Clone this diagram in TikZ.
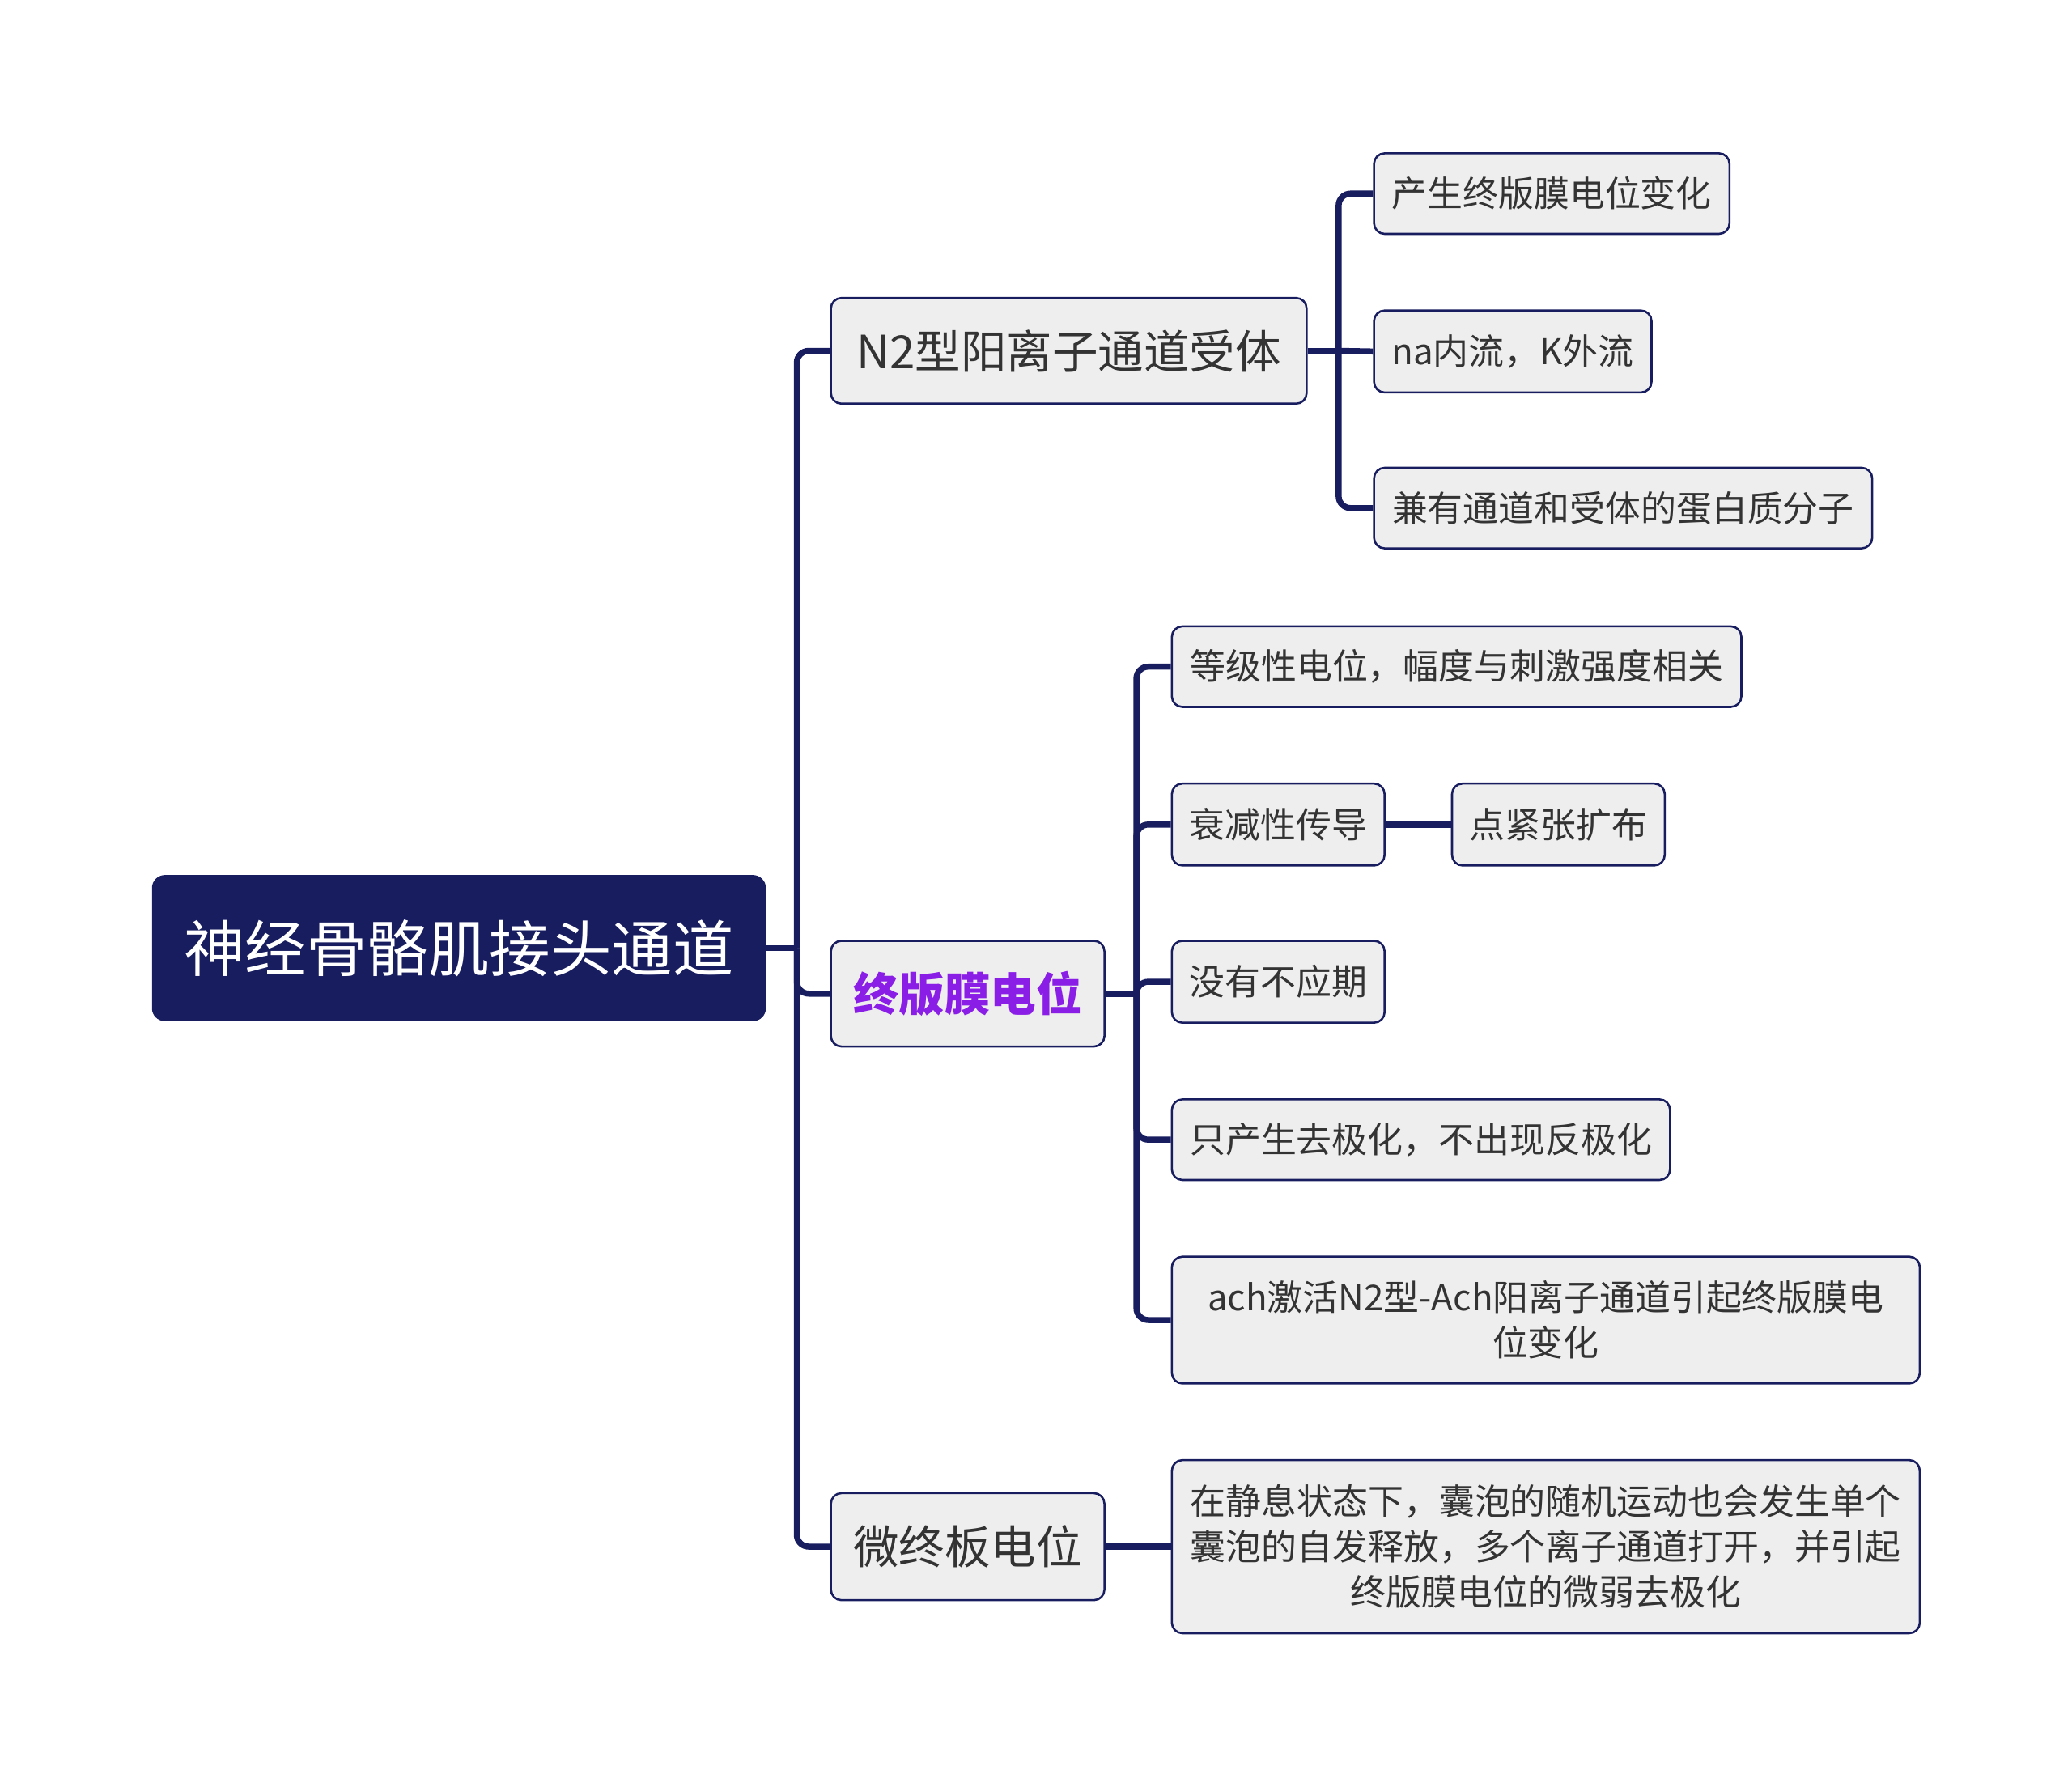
\documentclass[tikz,border=0pt]{standalone}
\usepackage{fontspec}
\setmainfont{Noto Sans CJK SC}
\usepackage{tikz}
\definecolor{navy}{HTML}{181D5F}
\definecolor{boxgray}{HTML}{EEEEEE}
\definecolor{txtgray}{HTML}{333333}
\definecolor{violet}{HTML}{8A1EE6}
\tikzstyle{rootbox} = [rectangle, rounded corners=0.18cm, anchor=west, minimum height=2.18cm, inner sep=0pt, text centered, draw=navy, line width=0.9pt, fill=navy, text=white, font=\fontsize{26.3}{32}\selectfont]
\tikzstyle{mainbox} = [rectangle, rounded corners=0.16cm, anchor=west, minimum height=1.6cm, inner sep=0pt, text centered, draw=navy, line width=0.9pt, fill=boxgray, text=txtgray, font=\fontsize{19.7}{24}\selectfont]
\tikzstyle{leafbox} = [rectangle, rounded corners=0.16cm, anchor=west, minimum height=1.22cm, inner sep=0pt, align=center, draw=navy, line width=0.9pt, fill=boxgray, text=txtgray, font=\fontsize{15.3}{19.5}\selectfont]
\tikzstyle{link} = [navy, line width=2.6pt, rounded corners=0.18cm]

\begin{document}
\begin{tikzpicture}
        \useasboundingbox (0,0) rectangle (31.36,-27.04);
        % Nodes
        \node (root) [rootbox, minimum width=9.26cm] at (2.30,-14.35) {神经骨骼肌接头通道};
        \node (n2) [mainbox, minimum width=7.20cm] at (12.56,-5.31) {N2型阳离子通道受体};
        \node (zb) [mainbox, minimum width=4.14cm, text=violet, font=\fontsize{19.7}{24}\selectfont\bfseries] at (12.56,-15.04) {终版膜电位};
        \node (wzb) [mainbox, minimum width=4.14cm, minimum height=1.62cm] at (12.56,-23.41) {微终板电位};

        \node (a1) [leafbox, minimum width=5.38cm] at (20.78,-2.93) {产生终版膜电位变化};
        \node (a2) [leafbox, minimum width=4.20cm, minimum height=1.24cm] at (20.78,-5.32) {na内流，K外流};
        \node (a3) [leafbox, minimum width=7.54cm] at (20.78,-7.69) {兼有通道和受体的蛋白质分子};

        \node (b1) [leafbox, minimum width=8.62cm] at (17.72,-10.09) {等级性电位，幅度与刺激强度相关};
        \node (b2) [leafbox, minimum width=3.22cm, minimum height=1.24cm] at (17.72,-12.48) {衰减性传导};
        \node (b2x) [leafbox, minimum width=3.22cm, minimum height=1.24cm] at (21.96,-12.48) {点紧张扩布};
        \node (b3) [leafbox, minimum width=3.22cm, minimum height=1.24cm] at (17.72,-14.86) {没有不应期};
        \node (b4) [leafbox, minimum width=7.54cm] at (17.72,-17.25) {只产生去极化，不出现反极化};
        \node (b5) [leafbox, minimum width=11.32cm, minimum height=1.92cm] at (17.72,-19.98) {ach激活N2型-Ach阳离子通道引起终版膜电\\位变化};

        \node (c1) [leafbox, minimum width=11.32cm, minimum height=2.62cm] at (17.72,-23.41) {在静息状态下，囊泡的随机运动也会发生单个\\囊泡的自发释放，多个离子通道打开，并引起\\终版膜电位的微弱去极化};

        \coordinate (j0) at (12.06,-14.35);
        \coordinate (j1) at (20.26,-5.31);
        \coordinate (j2) at (17.20,-15.04);

        % Connectors
        \draw [link] (root.east) -- (j0);
        \draw [link] (j0) |- (n2.west);
        \draw [link] (j0) |- (zb.west);
        \draw [link] (j0) |- (wzb.west);

        \draw [link] (n2.east) -- (j1);
        \draw [link] (j1) |- (a1.west);
        \draw [link] (j1) -- (a2.west);
        \draw [link] (j1) |- (a3.west);

        \draw [link] (zb.east) -- (j2);
        \draw [link] (j2) |- (b1.west);
        \draw [link] (j2) |- (b2.west);
        \draw [link] (j2) |- (b3.west);
        \draw [link] (j2) |- (b4.west);
        \draw [link] (j2) |- (b5.west);
        \draw [link] (b2.east) -- (b2x.west);

        \draw [link] (wzb.east) -- (c1.west);
    \end{tikzpicture}
\end{document}
